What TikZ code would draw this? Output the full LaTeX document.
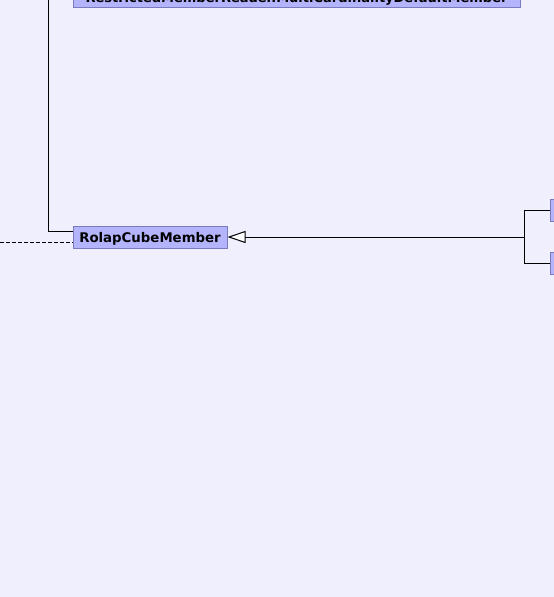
\documentclass[tikz,border=0pt]{standalone}
\usepackage{fontspec}
\setmainfont{DejaVu Sans}
\usetikzlibrary{arrows.meta,positioning}
\definecolor{pagebg}{RGB}{239,239,254}
\definecolor{classfill}{RGB}{180,180,252}
\definecolor{classdraw}{RGB}{122,122,190}
\tikzset{
  classbox/.style={
    draw=classdraw,
    fill=classfill,
    line width=1pt,
    inner sep=0pt,
    minimum height=22pt,
    text height=10pt,
    text depth=0pt,
    font=\fontsize{13.3}{15}\selectfont\bfseries
  },
  link/.style={draw=black, line width=1pt},
  inherit/.style={link, -{Triangle[open, length=18pt, width=12pt, fill=white]}},
  uses/.style={link, dash pattern=on 4pt off 2pt}
}

\begin{document}
\begin{tikzpicture}[x=1pt, y=-1pt]
    \fill[pagebg] (0,0) rectangle (554,597);
    \useasboundingbox (0,0) rectangle (554,597);
    \clip (0,0) rectangle (554,597);
    \node[classbox, minimum width=447pt, text height=13pt, font=\fontsize{13}{15}\selectfont\bfseries] (reader) at (296.5,-4) {RestrictedMemberReader.MultiCardinalityDefaultMember};
    \node[classbox, minimum width=154pt] (rolap) at (150,237) {RolapCubeMember};
    \node[classbox, minimum width=60pt, anchor=west] (subA) at (550,210) {};
    \node[classbox, minimum width=60pt, anchor=west] (subB) at (550,263) {};
    \coordinate (toplink) at (48,0);
    \coordinate (dashend) at (0,242);
    \coordinate (junc) at (524,237);
    \draw[link] (toplink) |- ([yshift=6pt]rolap.west);
    \draw[uses] (dashend) -- ([yshift=-5pt]rolap.west);
    \draw[link] (subA.west) -| (junc);
    \draw[link] (subB.west) -| (junc);
    \draw[inherit] (junc) -- (rolap.east);
  \end{tikzpicture}
\end{document}
